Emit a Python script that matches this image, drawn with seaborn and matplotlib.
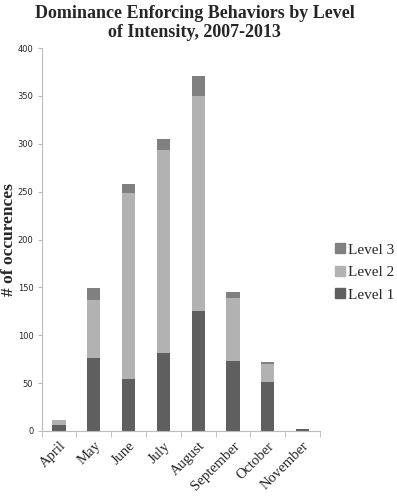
import numpy as np
import pandas as pd
import matplotlib
matplotlib.use("Agg")
import matplotlib.pyplot as plt
from matplotlib.patches import Patch
import seaborn as sns

# values
months = ["April", "May", "June", "July", "August", "September", "October", "November"]
level1 = [6, 76, 54, 81, 125, 73, 51, 2]
level2 = [5, 61, 195, 212, 225, 66, 19, 0]
level3 = [0, 12, 9, 12, 21, 6, 2, 0]

c1, c2, c3 = "#5f5f5f", "#b2b2b2", "#808080"

df = pd.DataFrame({"month": months, "l1": level1, "l2": level2, "l3": level3})
df["l12"] = df["l1"] + df["l2"]
df["total"] = df["l12"] + df["l3"]

sns.set_style("white")
serif = ["Liberation Serif", "DejaVu Serif"]

fig = plt.figure(figsize=(3.97, 5.0), dpi=100)
ax = fig.add_axes([0.105, 0.138, 0.701, 0.766])

# stacked bars drawn as cumulative layers
for col, color in [("total", c3), ("l12", c2), ("l1", c1)]:
    sns.barplot(data=df, x="month", y=col, color=color, width=0.38,
                saturation=1, ax=ax, edgecolor="none")

ax.set_ylim(0, 400)
ax.set_xlim(-0.5, len(months) - 0.5)
ax.set_yticks(range(0, 401, 50))
ax.tick_params(axis="y", labelsize=6, length=3, color="#bbbbbb", pad=3, left=True)
ax.set_xticks(np.arange(len(months)))
ax.set_xticklabels(months, rotation=45, ha="right", rotation_mode="anchor",
                   family=serif, fontsize=10.5)
ax.tick_params(axis="x", which="major", length=0, pad=6)
ax.set_xticks(np.arange(-0.5, len(months)), minor=True)
ax.tick_params(axis="x", which="minor", length=4, color="#bbbbbb", bottom=True)

for s in ["top", "right"]:
    ax.spines[s].set_visible(False)
for s in ["left", "bottom"]:
    ax.spines[s].set_color("#bbbbbb")
    ax.spines[s].set_linewidth(0.8)

ax.set_xlabel("")
ax.set_ylabel("# of occurences", family=serif, fontsize=12.5, fontweight="bold")
ax.yaxis.set_label_coords(-0.087, 0.5)

fig.suptitle("Dominance Enforcing Behaviors by Level\nof Intensity, 2007-2013",
             family=serif, fontsize=13, fontweight="bold", x=0.49, y=0.99,
             linespacing=1.15)

handles = [Patch(color=c3, label="Level 3"), Patch(color=c2, label="Level 2"),
           Patch(color=c1, label="Level 1")]
fig.legend(handles=handles, loc="center left", bbox_to_anchor=(0.845, 0.455),
           frameon=False, prop={"family": serif, "size": 11},
           handlelength=0.6, handleheight=0.6, handletextpad=0.25, labelspacing=0.6,
           borderaxespad=0, borderpad=0)

fig.savefig("out.png", dpi=100)
